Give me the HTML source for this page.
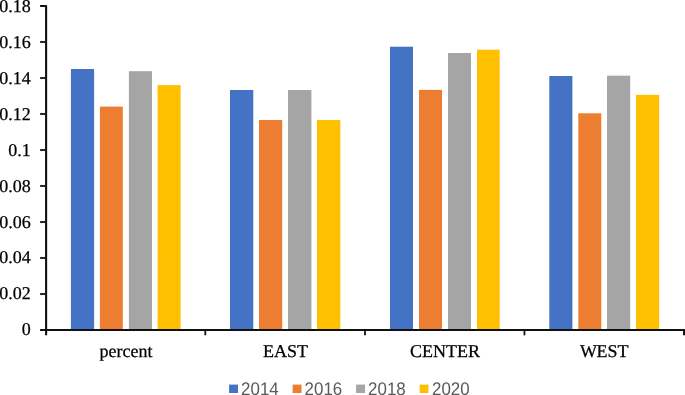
<!DOCTYPE html><html><head><meta charset="utf-8"><style>html,body{margin:0;padding:0;background:#fff;overflow:hidden}svg{display:block;will-change:transform;opacity:0.999}text{font-family:"Liberation Serif",serif;font-size:18px;fill:#000;text-rendering:geometricPrecision;stroke:#000;stroke-width:0.25px}.lg{font-family:"Liberation Sans",sans-serif;font-size:18.3px;fill:#595959;stroke:none}</style></head><body>
<svg width="685" height="395" viewBox="0 0 685 395">
<rect width="685" height="395" fill="#fff"/>
<rect x="70.9" y="69" width="23.2" height="261" fill="#4472C4"/>
<rect x="99.9" y="106.6" width="22.9" height="223.4" fill="#ED7D31"/>
<rect x="128.9" y="71.2" width="23.1" height="258.8" fill="#A5A5A5"/>
<rect x="157.6" y="85.1" width="23.0" height="244.9" fill="#FFC000"/>
<rect x="230" y="90" width="23.3" height="240" fill="#4472C4"/>
<rect x="259" y="120" width="23.2" height="210" fill="#ED7D31"/>
<rect x="288" y="90" width="23.4" height="240" fill="#A5A5A5"/>
<rect x="317" y="120" width="23.3" height="210" fill="#FFC000"/>
<rect x="390" y="46.7" width="23" height="283.3" fill="#4472C4"/>
<rect x="419" y="89.9" width="23" height="240.1" fill="#ED7D31"/>
<rect x="448" y="53" width="23" height="277" fill="#A5A5A5"/>
<rect x="477" y="49.7" width="22.7" height="280.3" fill="#FFC000"/>
<rect x="549.3" y="76" width="23.1" height="254" fill="#4472C4"/>
<rect x="578.3" y="113.3" width="23.0" height="216.7" fill="#ED7D31"/>
<rect x="607" y="75.7" width="23.2" height="254.3" fill="#A5A5A5"/>
<rect x="636" y="94.8" width="23.2" height="235.2" fill="#FFC000"/>
<g fill="none" stroke="#111" stroke-linejoin="round">
<path d="M40.1,6 H46.1 V335.3" stroke-width="2.1"/>
<path d="M40.1,330 H684.1 V335.3" stroke-width="2.1"/>
<path d="M40.1,42 H46" stroke-width="1.8"/>
<path d="M40.1,78 H46" stroke-width="1.8"/>
<path d="M40.1,114 H46" stroke-width="1.8"/>
<path d="M40.1,150 H46" stroke-width="1.8"/>
<path d="M40.1,186 H46" stroke-width="1.8"/>
<path d="M40.1,222 H46" stroke-width="1.8"/>
<path d="M40.1,258 H46" stroke-width="1.8"/>
<path d="M40.1,294 H46" stroke-width="1.8"/>
<path d="M205.3,330 V335.3" stroke-width="1.8"/>
<path d="M365,330 V335.3" stroke-width="1.8"/>
<path d="M524.45,330 V335.3" stroke-width="1.8"/>
</g>
<text x="30.8" y="12.0" text-anchor="end">0.18</text>
<text x="30.8" y="47.92" text-anchor="end">0.16</text>
<text x="30.8" y="83.84" text-anchor="end">0.14</text>
<text x="30.8" y="119.76" text-anchor="end">0.12</text>
<text x="30.8" y="155.68" text-anchor="end">0.1</text>
<text x="30.8" y="191.6" text-anchor="end">0.08</text>
<text x="30.8" y="227.52" text-anchor="end">0.06</text>
<text x="30.8" y="263.44" text-anchor="end">0.04</text>
<text x="30.8" y="299.36" text-anchor="end">0.02</text>
<text x="30.8" y="335.28" text-anchor="end">0</text>
<text x="126.05" y="357.1" text-anchor="middle">percent</text>
<text x="285.55" y="357.1" text-anchor="middle">EAST</text>
<text x="445.05" y="357.1" text-anchor="middle">CENTER</text>
<text x="604.25" y="357.1" text-anchor="middle">W<tspan dx="-0.6">EST</tspan></text>
<rect x="229.10000000000002" y="384.6" width="8.9" height="8.4" fill="#4472C4"/>
<text class="lg" x="241.1" y="394.8" textLength="37.6" lengthAdjust="spacingAndGlyphs">2014</text>
<rect x="292.6" y="384.6" width="8.9" height="8.4" fill="#ED7D31"/>
<text class="lg" x="304.6" y="394.8" textLength="37.6" lengthAdjust="spacingAndGlyphs">2016</text>
<rect x="356.1" y="384.6" width="8.9" height="8.4" fill="#A5A5A5"/>
<text class="lg" x="368.1" y="394.8" textLength="37.6" lengthAdjust="spacingAndGlyphs">2018</text>
<rect x="419.6" y="384.6" width="8.9" height="8.4" fill="#FFC000"/>
<text class="lg" x="432.0" y="394.8" textLength="37.6" lengthAdjust="spacingAndGlyphs">2020</text>
</svg></body></html>
